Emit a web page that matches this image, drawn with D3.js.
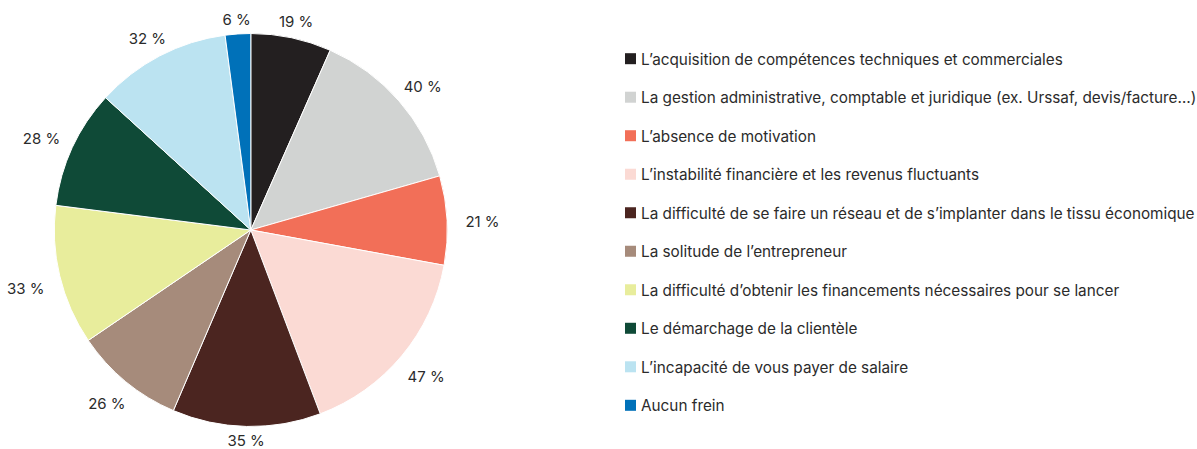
<!DOCTYPE html>
<html><head><meta charset="utf-8">
<script src="https://cdn.jsdelivr.net/npm/d3@7"></script>
<style>html,body{margin:0;padding:0;background:#fff;}svg{display:block;}</style>
</head><body>
<svg id="chart" width="1197" height="449"></svg>
<script>
const categories = [
  "L’acquisition de compétences techniques et commerciales",
  "La gestion administrative, comptable et juridique (ex. Urssaf, devis/facture…)",
  "L’absence de motivation",
  "L’instabilité financière et les revenus fluctuants",
  "La difficulté de se faire un réseau et de s’implanter dans le tissu économique",
  "La solitude de l’entrepreneur",
  "La difficulté d’obtenir les financements nécessaires pour se lancer",
  "Le démarchage de la clientèle",
  "L’incapacité de vous payer de salaire",
  "Aucun frein"
];
const values = [19, 40, 21, 47, 35, 26, 33, 28, 32, 6];
const colors = ["#231f20","#d1d3d2","#f26f58","#fbdad4","#4b2520","#a68b7b","#e8ed9c","#0f4a37","#bbe3f1","#0071b9"];

const svg = d3.select("#chart");
const font = "Inter, 'Liberation Sans', Arial, sans-serif";
const cx = 250.8, cy = 230, r = 196.5;

const data = categories.map((c, i) => ({cat: c, value: values[i], color: colors[i]}));
const pie = d3.pie().sort(null).value(d => d.value);
const arcs = pie(data);
const arc = d3.arc().innerRadius(0).outerRadius(r);

const g = svg.append("g").attr("transform", `translate(${cx},${cy})`);
g.selectAll("path").data(arcs).join("path")
  .attr("d", arc)
  .attr("fill", d => d.data.color)
  .attr("stroke", "#fff")
  .attr("stroke-width", 1);

g.selectAll("text.lbl").data(arcs).join("text")
  .attr("class", "lbl")
  .each(function(d) {
    const a = (d.startAngle + d.endAngle) / 2;
    const s = Math.sin(a), c = Math.cos(a);
    const R = 210 + 16 * Math.abs(s);
    d3.select(this).attr("x", R * s + 6 * Math.sign(s) * Math.abs(s)).attr("y", -R * c + 6 * Math.abs(s) * (c < 0 ? 1 : 0.5) * (c < 0 ? 1 : 1));
  })
  .attr("text-anchor", "middle")
  .attr("dominant-baseline", "central")
  .attr("font-family", font)
  .attr("font-size", 15)
  .attr("fill", "#2b2b2b")
  .text(d => d.data.value + " %");

const legendY = d3.scalePoint().domain(categories).range([58.7, 405.3]);
const lg = svg.append("g");
const items = lg.selectAll("g").data(data).join("g")
  .attr("transform", d => `translate(625,${legendY(d.cat)})`);
items.append("rect").attr("x", 0).attr("y", -5.5).attr("width", 11).attr("height", 11)
  .attr("fill", d => d.color);
items.append("text").attr("x", 16).attr("y", 0.5)
  .attr("dominant-baseline", "central")
  .attr("font-family", font).attr("font-size", 15.3).attr("fill", "#2b2b2b")
  .text(d => d.cat);
</script>
</body></html>
